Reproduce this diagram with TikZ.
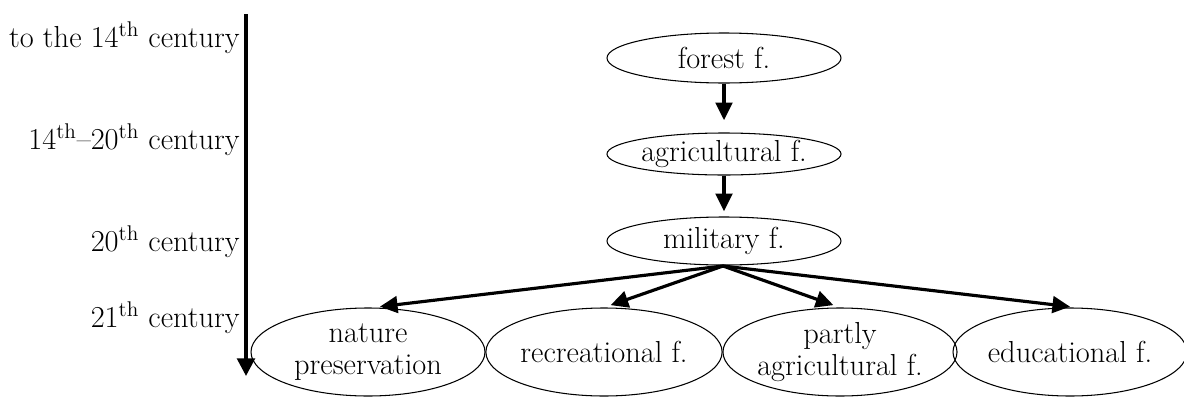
\documentclass[tikz,border=0pt]{standalone}
\usetikzlibrary{shapes.geometric,arrows.meta}
\tikzset{
  era/.style={anchor=east, inner sep=0pt},
  fn/.style={ellipse, draw, line width=0.6pt, inner sep=0pt, minimum width=234*0.02cm, align=center},
  link/.style={line width=1.8pt, -{Triangle[length=10pt,width=9.5pt]}, shorten >=4pt}
}
\newcommand{\cent}[1]{#1\textsuperscript{th}}

\begin{document}
\begin{tikzpicture}[x=0.02cm, y=-0.02cm, font=\fontsize{17.3}{19}\selectfont]
			%%%%% START %%%%%
			\useasboundingbox (0, 0) rectangle (1184, 396);

			% time axis
			\coordinate (top) at (246, 14);
			\coordinate (bot) at (246, 376);
			\draw[line width=2pt, -{Triangle[length=10pt,width=10pt]}] (top) -- (bot);

			\node[era] (c1) at (240, 38) {to the \cent{14} century};
			\node[era] (c2) at (240, 140) {\cent{14}--\cent{20} century};
			\node[era] (c3) at (240, 242) {\cent{20} century};
			\node[era] (c4) at (240, 318) {\cent{21} century};

			% functions
			\node[fn, minimum height=50*0.02cm] (forest) at (724, 58) {forest f.};
			\node[fn, minimum height=42*0.02cm] (agri) at (724, 154) {agricultural f.};
			\node[fn, minimum height=48*0.02cm] (mil) at (724, 241) {military f.};

			\node[fn, minimum height=88*0.02cm] (nat) at (368, 352) {nature\\[-1pt]preservation};
			\node[fn, minimum height=88*0.02cm] (rec) at (604, 352) {recreational f.};
			\node[fn, minimum height=88*0.02cm] (part) at (840, 352) {partly\\[-1pt]agricultural f.};
			\node[fn, minimum height=88*0.02cm] (edu) at (1070, 352) {educational f.};

			\draw[link, shorten >=7pt] (forest) -- (agri);
			\draw[link, shorten >=3pt] (agri) -- (mil);

			\coordinate (hub) at (723, 266);
			\draw[link] (hub) -- ([xshift=5*0.02cm]nat.north);
			\draw[link] (hub) -- (rec.north);
			\draw[link] (hub) -- (part.north);
			\draw[link] (hub) -- ([xshift=7*0.02cm]edu.north);
			%%%%% END %%%%%
\end{tikzpicture}
\end{document}
